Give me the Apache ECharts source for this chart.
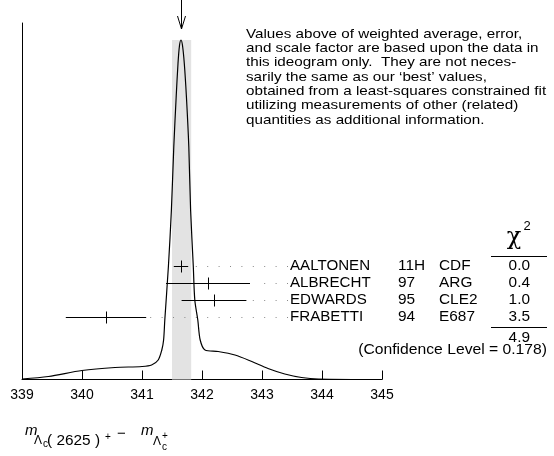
<!DOCTYPE html>
<html>
<head>
<meta charset="utf-8">
<script src="https://cdn.jsdelivr.net/npm/echarts@6/dist/echarts.min.js"></script>
<style>
  html, body { margin: 0; padding: 0; background: #fff; }
  #chart { width: 554px; height: 456px; }
</style>
</head>
<body>
<div id="chart"></div>
<script>
// ideogram curve (relative height)
var curveX = [339.0, 339.44, 340.0, 340.55, 341.0, 341.16, 341.27, 341.33, 341.36, 341.38, 341.44, 341.49,
  341.53, 341.57, 341.6, 341.625, 341.65, 341.675, 341.705, 341.74, 341.78, 341.81, 341.855, 341.88,
  341.93, 341.97, 342.05, 342.27, 342.55, 342.83, 343.1, 343.38, 343.66, 343.94, 345.0];
var curveY = [0.5, 3, 9, 12, 13, 14.5, 19.5, 29.5, 39.5, 59.5, 113, 169.5,
  233, 283, 316, 334, 339.5, 334, 316, 283, 233, 169.5, 113, 79.5,
  59.5, 39.5, 29.5, 28, 24.5, 18, 11, 5.5, 2, 0.5, 0];

// measurements
var names = ['AALTONEN', 'ALBRECHT', 'EDWARDS', 'FRABETTI'];
var years = ['11H', '97', '95', '94'];
var experiments = ['CDF', 'ARG', 'CLE2', 'E687'];
var values = [341.65, 342.1, 342.2, 340.4];
var errors = [0.12, 0.7, 0.54, 0.67];
var chi2 = ['0.0', '0.4', '1.0', '3.5'];
var chi2Total = '4.9';
var confidenceLevel = '0.178';

// weighted average +- error (grey band)
var average = 341.66;
var averageError = 0.16;

var xMin = 339, xMax = 345;

var infoText = [
  'Values above of weighted average, error,',
  'and scale factor are based upon the data in',
  'this ideogram only.  They are not neces-',
  'sarily the same as our \u2018best\u2019 values,',
  'obtained from a least-squares constrained fit',
  'utilizing measurements of other (related)',
  'quantities as additional information.'
];

var FONT = '"Liberation Sans", Arial, Helvetica, sans-serif';
var yMax = 356.5;     // y axis in pixel-ish units
var rowTop = 113;     // height of the first measurement row
var rowStep = 17;
var leaderEnd = 288;  // where the dotted lines stop (px)
var WIDE = 1.1;       // the reference text is a bit wider than Liberation Sans

var chart = echarts.init(document.getElementById('chart'));

var peak = Math.max.apply(null, curveY);
var curveData = curveX.map(function (x, i) { return [x, curveY[i]]; });
var barData = values.map(function (v, i) { return [v, errors[i], i]; });

function crisp(v) {
  return Math.round(v - 0.5) + 0.5;
}

function renderBand(params, api) {
  var lo = api.coord([average - averageError, 0]);
  var hi = api.coord([average + averageError, peak]);
  var ax = crisp(api.coord([average, 0])[0]);
  var tip = hi[1] - 11;
  return {
    type: 'group',
    children: [
      {
        type: 'rect',
        shape: { x: lo[0], y: hi[1], width: hi[0] - lo[0], height: lo[1] - hi[1] },
        style: { fill: '#e3e3e3' }
      },
      {
        type: 'line',
        shape: { x1: ax, y1: 0, x2: ax, y2: tip },
        style: { stroke: '#000', lineWidth: 1 }
      },
      {
        type: 'polyline',
        shape: { points: [[ax - 4, tip - 13], [ax, tip], [ax + 4, tip - 13]] },
        style: { stroke: '#000', lineWidth: 1, fill: null }
      }
    ]
  };
}

function renderBar(params, api) {
  var v = api.value(0), e = api.value(1), i = api.value(2);
  var y = crisp(api.coord([v, rowTop - i * rowStep])[1]);
  var left = api.coord([v - e, 0])[0];
  var right = api.coord([v + e, 0])[0];
  var mid = crisp(api.coord([v, 0])[0]);
  return {
    type: 'group',
    children: [
      {
        type: 'line',
        shape: { x1: leaderEnd, y1: y, x2: right + 4, y2: y },
        style: { stroke: '#888', lineWidth: 1, lineDash: [1, 10.4] }
      },
      {
        type: 'line',
        shape: { x1: left, y1: y, x2: right, y2: y },
        style: { stroke: '#000', lineWidth: 1 }
      },
      {
        type: 'line',
        shape: { x1: mid, y1: y - 6, x2: mid, y2: y + 6 },
        style: { stroke: '#000', lineWidth: 1 }
      }
    ]
  };
}

var option = {
  animation: false,
  backgroundColor: '#fff',
  grid: { left: 22, right: 172, top: 23, bottom: 76.5 },
  xAxis: {
    type: 'value',
    min: xMin,
    max: xMax,
    interval: 1,
    axisLine: { lineStyle: { color: '#000', width: 1 } },
    axisTick: { inside: true, length: 9, lineStyle: { color: '#000' } },
    axisLabel: { color: '#000', fontSize: 14, fontFamily: FONT, margin: 9 },
    splitLine: { show: false }
  },
  yAxis: {
    type: 'value',
    min: 0,
    max: yMax,
    axisLine: { show: true, onZero: false, lineStyle: { color: '#000', width: 1 } },
    axisTick: { show: false },
    axisLabel: { show: false },
    splitLine: { show: false }
  },
  series: [
    {
      type: 'custom',
      renderItem: renderBand,
      data: [[average, averageError]],
      clip: false,
      z: 1,
      silent: true
    },
    {
      type: 'custom',
      renderItem: renderBar,
      data: barData,
      clip: false,
      z: 2,
      silent: true
    },
    {
      type: 'line',
      data: curveData,
      showSymbol: false,
      smooth: 0.3,
      lineStyle: { color: '#000', width: 1.2 },
      z: 3,
      silent: true
    }
  ]
};

chart.setOption(option);

// text: labels of the rows, chi^2 table, note and axis title
function txt(x, y, s, size, align, extra, sx) {
  var st = { text: s, fontSize: size, fontFamily: FONT, fill: '#000', align: align || 'left', verticalAlign: 'middle' };
  if (extra) for (var k in extra) st[k] = extra[k];
  return { type: 'text', x: x, y: y, scaleX: sx || 1, style: st, silent: true };
}

var g = [];
names.forEach(function (n, i) {
  var y = chart.convertToPixel({ gridIndex: 0 }, [xMin, rowTop - i * rowStep])[1];
  g.push(txt(290, y, n, 14, 'left', null, 1.08));
  g.push(txt(398, y, years[i], 14, 'left', null, WIDE));
  g.push(txt(439, y, experiments[i], 14, 'left', null, WIDE));
  g.push(txt(530, y, chi2[i], 14, 'right', null, WIDE));
});

g.push(txt(514, 238, '\u03c7', 24, 'center', { fontFamily: '"DejaVu Serif", serif' }));
g.push(txt(527, 226, '2', 13, 'center'));
g.push({ type: 'line', shape: { x1: 491, y1: 256.5, x2: 547, y2: 256.5 }, style: { stroke: '#000', lineWidth: 1 } });
g.push({ type: 'line', shape: { x1: 491, y1: 327.5, x2: 547, y2: 327.5 }, style: { stroke: '#000', lineWidth: 1 } });
g.push(txt(530, 338.5, chi2Total, 14, 'right', null, WIDE));
g.push(txt(547, 350.5, '(Confidence Level = ' + confidenceLevel + ')', 14, 'right', null, 1.12));

g.push({
  type: 'text', x: 246, y: 27, scaleX: 1.17, silent: true,
  style: { text: infoText.join('\n'), fontSize: 13, fontFamily: FONT, fill: '#000', lineHeight: 14.3, verticalAlign: 'top' }
});

// axis title: m_{Lambda_c(2625)+} - m_{Lambda_c+}
g.push(txt(25, 431, 'm', 15, 'left', { fontStyle: 'italic' }));
g.push(txt(34, 441, '\u039b', 12));
g.push(txt(43, 444, 'c', 10));
g.push(txt(47, 441, '( 2625 )', 14, 'left', null, 1.1));
g.push(txt(105, 437, '+', 10));
g.push(txt(117, 434, '\u2212', 15));
g.push(txt(141, 431, 'm', 15, 'left', { fontStyle: 'italic' }));
g.push(txt(153, 442, '\u039b', 12));
g.push(txt(162, 436, '+', 10));
g.push(txt(162, 447, 'c', 10));

chart.setOption({ graphic: g });
</script>
</body>
</html>
